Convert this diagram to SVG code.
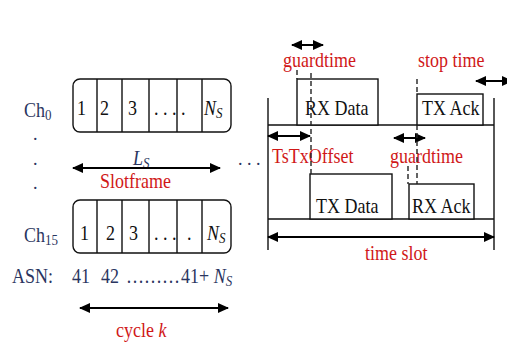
<svg xmlns="http://www.w3.org/2000/svg" width="507" height="345" viewBox="0 0 507 345">
<style>
text{font-family:"Liberation Serif","Times New Roman",serif;}
.lbl{fill:#2a3560;font-size:18px;}
.num{fill:#111;font-size:18px;}
.red{fill:#d01818;font-size:18px;}
.box{fill:#fff;stroke:#111;stroke-width:1.4;}
.ln{stroke:#111;stroke-width:1.4;fill:none;}
.arr{stroke:#000;stroke-width:2;fill:none;marker-start:url(#ah);marker-end:url(#ah);}
.dash{stroke:#222;stroke-width:1.4;stroke-dasharray:5,3;fill:none;}
</style>
<defs>
<marker id="ah" markerUnits="userSpaceOnUse" markerWidth="12" markerHeight="12" viewBox="0 0 12 12" refX="10" refY="6" orient="auto-start-reverse">
<path d="M0,1 L11,6 L0,11 z" fill="#000"/>
</marker>
</defs>
<rect width="507" height="345" fill="#fff"/>

<g id="slotframe-ch0">
<rect class="box" x="73" y="79" width="158" height="53" rx="7"/>
<path class="ln" d="M97,79V132M122,79V132M149,79V132M177,79V132M202,79V132"/>
<text class="lbl" transform="translate(24 117) scale(1 1.14)">Ch<tspan font-size="13" dy="3">0</tspan></text>
<text class="num" transform="translate(77 115) scale(1 1.14)">1</text>
<text class="num" transform="translate(100 115) scale(1 1.14)">2</text>
<text class="num" transform="translate(128 115) scale(1 1.14)">3</text>
<text class="num" transform="translate(154 115) scale(1 1.14)">. . . .</text>
<text class="num" font-style="italic" transform="translate(204 115) scale(1 1.14)">N<tspan font-size="13" dy="3">S</tspan></text>
</g>

<g id="dots">
<text class="lbl" x="33" y="140" font-size="14">.</text>
<text class="lbl" x="33" y="165" font-size="14">.</text>
<text class="lbl" x="33" y="189" font-size="14">.</text>
<text class="lbl" x="238" y="165" font-size="14">. . .</text>
</g>

<g id="slotframe-ch15">
<rect class="box" x="73" y="200" width="158" height="53" rx="7"/>
<path class="ln" d="M97,200V253M122,200V253M149,200V253M177,200V253M202,200V253"/>
<text class="lbl" transform="translate(24 242) scale(1 1.14)">Ch<tspan font-size="13" dy="3">15</tspan></text>
<text class="num" transform="translate(80 240) scale(1 1.14)">1</text>
<text class="num" transform="translate(106 240) scale(1 1.14)">2</text>
<text class="num" transform="translate(129 240) scale(1 1.14)">3</text>
<text class="num" transform="translate(154 240) scale(1 1.14)">. . .</text>
<text class="num" transform="translate(187 240) scale(1 1.14)">.</text>
<text class="num" font-style="italic" transform="translate(207 240) scale(1 1.14)">N<tspan font-size="13" dy="3">S</tspan></text>
</g>

<g id="asn">
<text class="lbl" transform="translate(12 283) scale(1 1.14)">ASN:</text>
<text class="lbl" transform="translate(72 283) scale(1 1.14)">41</text>
<text class="lbl" transform="translate(101 283) scale(1 1.14)">42</text>
<text class="lbl" transform="translate(126 283) scale(1 1.14)">………</text>
<text class="lbl" transform="translate(181 283) scale(1 1.14)">41+ <tspan font-style="italic">N</tspan><tspan font-style="italic" font-size="13" dy="3">S</tspan></text>
</g>

<g id="timeslot-frame">
<path class="ln" d="M268,98V250M494,98V250M268,125H494M268,219H494"/>
</g>

<g id="rx-data">
<rect class="box" x="297" y="79" width="81" height="46"/>
<text class="num" transform="translate(305 115) scale(1 1.14)">RX Data</text>
</g>
<g id="tx-ack">
<rect class="box" x="417" y="94" width="66" height="31"/>
<text class="num" transform="translate(422 115) scale(1 1.14)" font-size="17">TX Ack</text>
</g>
<g id="tx-data">
<rect class="box" x="310" y="174" width="82" height="45"/>
<text class="num" transform="translate(316 213) scale(1 1.14)">TX Data</text>
</g>
<g id="rx-ack">
<rect class="box" x="409" y="184" width="65" height="35"/>
<text class="num" transform="translate(412 213) scale(1 1.14)" font-size="17">RX Ack</text>
</g>

<g id="labels">
<text class="red" transform="translate(283 67) scale(1 1.12)">guardtime</text>
<text class="red" transform="translate(418 67) scale(1 1.12)">stop time</text>
<text class="red" transform="translate(272 163) scale(1 1.12)">TsTxOffset</text>
<text class="red" transform="translate(390 163) scale(1 1.12)">guardtime</text>
<text class="red" transform="translate(365 260) scale(1 1.12)">time slot</text>
<text class="red" transform="translate(100 188) scale(1 1.12)">Slotframe</text>
<text class="red" transform="translate(116 337) scale(1 1.12)">cycle <tspan font-style="italic">k</tspan></text>
<text class="lbl" font-style="italic" transform="translate(133 165) scale(1 1.14)">L<tspan font-size="13" dy="3">S</tspan></text>
</g>

<g id="connectors">
<path class="arr" d="M292,45H323"/>
<path class="arr" d="M476,81H512"/>
<path class="arr" d="M268,136H310"/>
<path class="arr" d="M394,138H425"/>
<path class="arr" d="M268,237H494"/>
<path class="arr" d="M73,168H220"/>
<path class="arr" d="M80,308H228"/>
<path class="dash" d="M297,70V79"/>
<path class="dash" d="M311,73V174"/>
<path class="dash" d="M417,79V94"/>
<path class="dash" d="M417,125V184"/>
<path class="dash" d="M408,166V184"/>
</g>
</svg>
